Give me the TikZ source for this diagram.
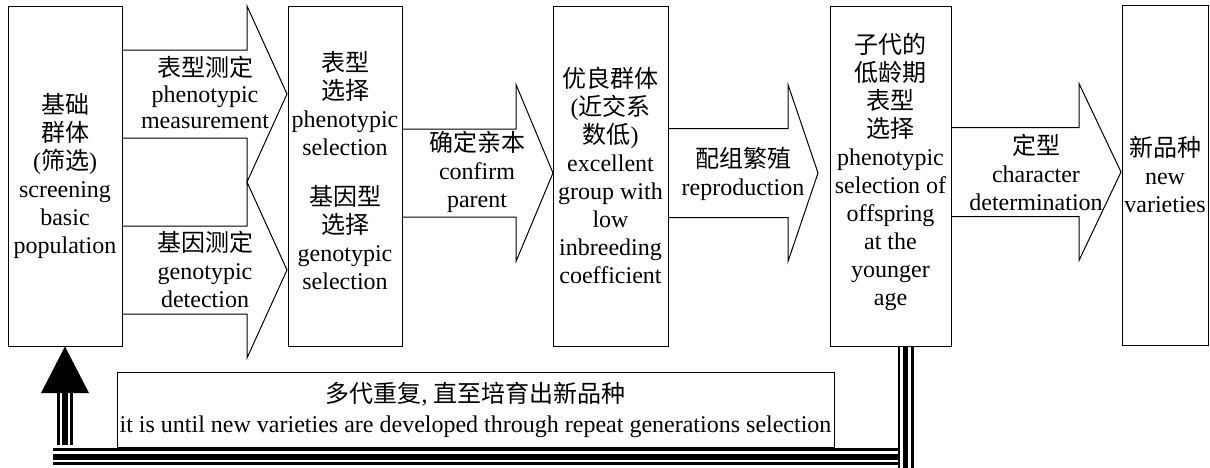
\documentclass[tikz,border=0pt]{standalone}
\usepackage{fontspec}
\usetikzlibrary{calc}
\setmainfont{Liberation Serif}
\newfontfamily\cjk{Noto Sans CJK SC}
\newcommand{\blockarr}[6]{%
  \draw[line width=1pt, fill=white, line join=miter] (#1,#4-#5) -- (#2,#4-#5) -- (#2,#4-#6) -- (#3,#4) -- (#2,#4+#6) -- (#2,#4+#5) -- (#1,#4+#5);}
\begin{document}
\begin{tikzpicture}[x=1pt,y=-1pt,
  box/.style={draw, line width=1pt, minimum width=#1, minimum height=340, inner sep=0},
  txt/.style={align=center, font=\fontsize{24}{28}\selectfont, inner sep=0},
  tripleline/.style={line width=16pt, draw=black,
     postaction={draw=white, line width=10.5pt},
     postaction={draw=black, line width=5.5pt}}]
\useasboundingbox (0,0) rectangle (1210,467);
% block arrows
\blockarr{122}{247}{287}{94}{44}{88}
\blockarr{122}{247}{287}{270}{44}{88}
\blockarr{402}{516}{553}{173}{44}{88.5}
\blockarr{668}{788}{818}{173}{44.5}{88.5}
\blockarr{951}{1079}{1121}{172}{44.5}{88.5}
% boxes
\node[box=114] (b1) at (65,176) {};
\node[box=114] (b2) at (345,176) {};
\node[box=115] (b3) at (610.5,176) {};
\node[box=121] (b4) at (890.5,176) {};
\node[box=86] (b5) at (1165,175.5) {};
% box texts
\node[txt] (t1) at (b1.center) {{\cjk 基础}\\{\cjk 群体}\\({\cjk 筛选})\\screening\\basic\\population};
\node[txt] (t2a) at (345,104) {{\cjk 表型}\\{\cjk 选择}\\phenotypic\\selection};
\node[txt] (t2b) at (345,238) {{\cjk 基因型}\\{\cjk 选择}\\genotypic\\selection};
\node[txt] (t3) at (610.5,175) {{\cjk 优良群体}\\({\cjk 近交系}\\{\cjk 数低})\\excellent\\group with\\low\\inbreeding\\coefficient};
\node[txt] (t4) at (890.5,172) {{\cjk 子代的}\\{\cjk 低龄期}\\{\cjk 表型}\\{\cjk 选择}\\phenotypic\\selection of\\offspring\\at the\\younger\\age};
\node[txt] (t5) at (1165,174) {{\cjk 新品种}\\new\\varieties};
% arrow labels
\node[txt, font=\fontsize{24}{26}\selectfont] (l1a) at (205,92) {{\cjk 表型测定}\\phenotypic\\measurement};
\node[txt] (l1b) at (205,269) {{\cjk 基因测定}\\genotypic\\detection};
\node[txt] (l2) at (477,172) {{\cjk 确定亲本}\\confirm\\parent};
\node[txt] (l3) at (743,174) {{\cjk 配组繁殖}\\reproduction};
\node[txt] (l4) at (1036,172) {{\cjk 定型}\\character\\determination};
% repeat box
\node[draw, line width=1pt, minimum width=717, minimum height=75, inner sep=0] (rep) at (475.5,409.5) {};
\node[txt, font=\fontsize{24}{30}\selectfont] (rept) at (rep.center) {{\cjk 多代重复}, {\cjk 直至培育出新品种}\\it is until new varieties are developed through repeat generations selection};
% feedback triple lines
\coordinate (down0) at ($(b4.south)+(15,0)$);
\coordinate (down1) at (905.5,475);
\coordinate (hr) at (898,456.5);
\coordinate (hl) at (53,456.5);
\draw[line width=17pt, postaction={draw=white, line width=11pt}, postaction={draw=black, line width=6pt}] (hl) -- (hr);
\draw[tripleline] (down0) -- (down1);
\coordinate (up0) at (65,445);
\coordinate (upb) at (65,393);
\draw[tripleline] (up0) -- (upb);
\fill[black] (41,393) -- (89,393) -- (b1.south) -- cycle;
\end{tikzpicture}
\end{document}
